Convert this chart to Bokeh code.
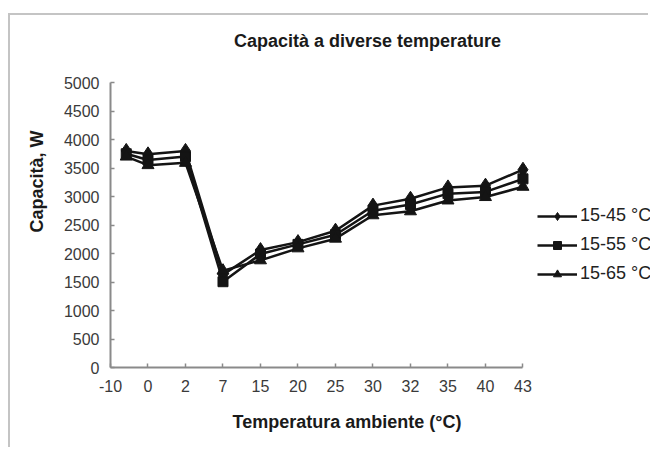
import numpy as np
from bokeh.plotting import figure
from bokeh.models import Legend, LegendItem, Title, Label, FixedTicker, Range1d
from bokeh.embed import file_html
from bokeh.resources import INLINE

# ---- data ----
temps = ["-10", "0", "2", "7", "15", "20", "25", "30", "32", "35", "40", "43"]
cap_15_45 = [3800, 3740, 3800, 1630, 2060, 2200, 2400, 2840, 2960, 3160, 3190, 3470]
cap_15_55 = [3750, 3640, 3700, 1505, 1990, 2160, 2330, 2750, 2860, 3050, 3080, 3310]
cap_15_65 = [3700, 3550, 3590, 1700, 1880, 2090, 2260, 2670, 2740, 2930, 2990, 3170]
series_names = ["15-45 °C", "15-55 °C", "15-65 °C"]
y_ticks = [0, 500, 1000, 1500, 2000, 2500, 3000, 3500, 4000, 4500, 5000]
y_max = 5000

FONT = "Liberation Sans"
first_shift = 0.42  # first point sits between the first two labels in the original

# ---- layout (pixels) ----
W, H = 640, 434
B_LEFT, B_BOTTOM = 98, 82
AXIS_W, AXIS_H = 414, 285          # drawn length of the x and y axes
FRAME_W, FRAME_H = W - B_LEFT, H - B_BOTTOM

x_idx = np.arange(len(temps), dtype=float)
x_pts = x_idx.copy()
x_pts[0] = first_shift
n_int = len(temps) - 1

p = figure(width=W, height=H, output_backend="svg", toolbar_location=None,
           x_range=Range1d(0, n_int * FRAME_W / AXIS_W),
           y_range=Range1d(0, y_max * FRAME_H / AXIS_H),
           min_border_left=B_LEFT, min_border_right=0, min_border_top=0,
           min_border_bottom=B_BOTTOM)
p.styles = {"border-top": "2px solid #c4c4c4", "border-left": "2px solid #c4c4c4",
            "margin-top": "13px", "margin-left": "8px"}
p.outline_line_color = None
p.xgrid.visible = False
p.ygrid.visible = False
p.background_fill_color = "white"
p.border_fill_color = "white"

# axes
p.xaxis.ticker = FixedTicker(ticks=list(x_idx))
p.xaxis.major_label_overrides = {i: t for i, t in enumerate(temps)}
p.xaxis.bounds = (0, n_int)
p.yaxis.ticker = FixedTicker(ticks=y_ticks)
p.yaxis.bounds = (0, y_max)
for ax in (p.xaxis[0], p.yaxis[0]):
    ax.axis_line_color = "#8a8a8a"
    ax.axis_line_width = 2
    ax.major_tick_line_color = "#8a8a8a"
    ax.major_tick_line_width = 1.5
    ax.major_tick_in = 4
    ax.major_tick_out = 0
    ax.minor_tick_line_color = None
    ax.major_label_text_font = FONT
    ax.major_label_text_font_size = "16px"
    ax.major_label_text_color = "#3a3a3a"
p.xaxis.major_label_standoff = 12
p.yaxis.major_label_standoff = 11

# series
markers = ["diamond", "square", "triangle"]
msizes = [15, 10, 12]
items = []
for vals, name, mk, ms in zip([cap_15_45, cap_15_55, cap_15_65], series_names, markers, msizes):
    ln = p.line(x_pts, vals, line_color="#141414", line_width=2.5)
    sc = p.scatter(x_pts, vals, marker=mk, size=ms, fill_color="#141414", line_color="#141414")
    items.append(LegendItem(label=name, renderers=[ln, sc]))

legend = Legend(items=items, location=(427, 83), glyph_width=40, glyph_height=20,
                label_height=20, spacing=8, padding=0, margin=0, label_standoff=3,
                border_line_color=None, background_fill_alpha=0,
                label_text_font=FONT, label_text_font_size="18px", label_text_color="#222222")
p.add_layout(legend, "center")

# chart title (inside the enlarged frame)
p.add_layout(Label(x=257, y=327, x_units="screen", y_units="screen",
                   text="Capacità a diverse temperature", text_align="center",
                   text_baseline="middle", text_font=FONT, text_font_size="18px",
                   text_font_style="bold", text_color="#1a1a1a"))

# axis titles
def mk_title(text, align, offset, standoff):
    return Title(text=text, align=align, offset=offset, standoff=standoff,
                 text_font=FONT, text_font_size="18px", text_font_style="bold",
                 text_color="#1a1a1a")

p.add_layout(mk_title("Temperatura ambiente (°C)", "left", 122, 30), "below")
p.add_layout(mk_title("Capacità, W", "right", 115, 28), "left")

open("out.html", "w").write(file_html(p, INLINE))
